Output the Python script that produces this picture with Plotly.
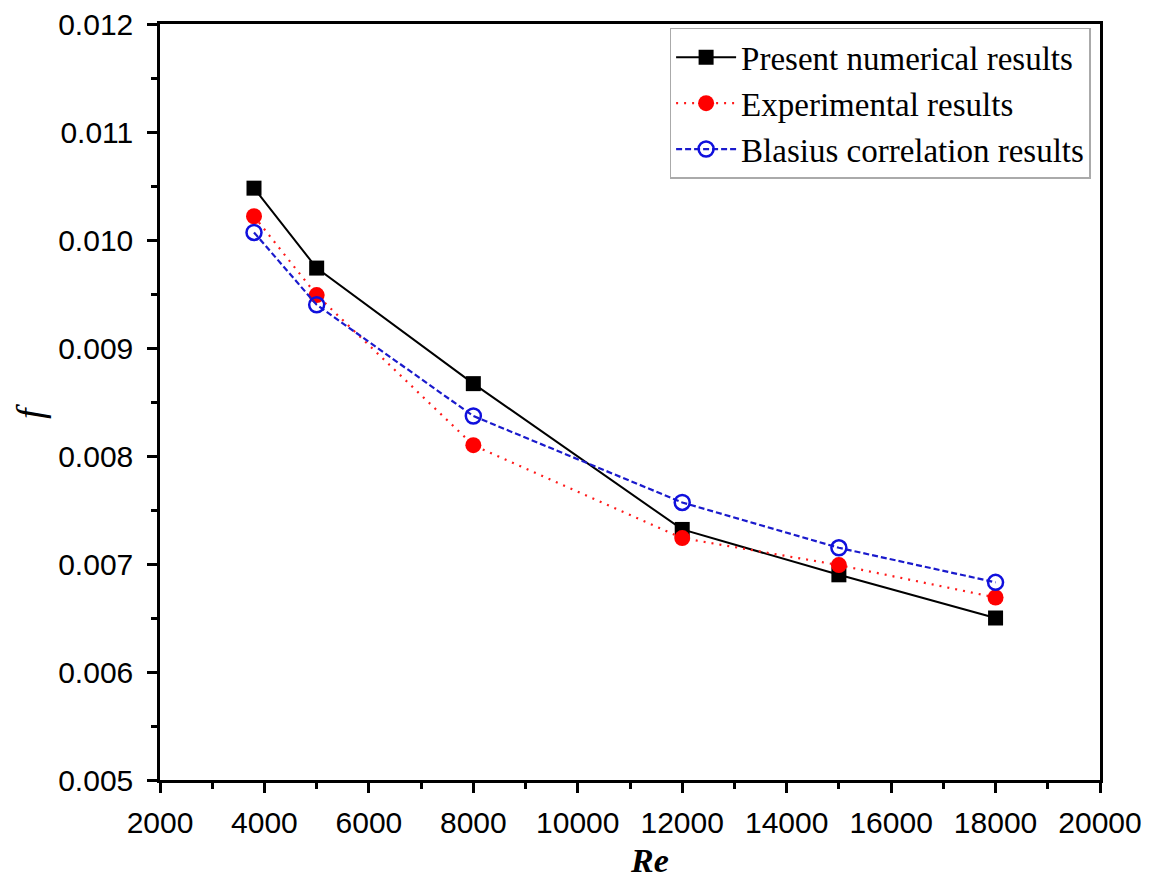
import plotly.graph_objects as go

re_vals = [3800, 5000, 8000, 12000, 15000, 18000]
f_numerical = [0.01048, 0.00974, 0.00867, 0.00732, 0.00690, 0.00650]
f_experimental = [0.01022, 0.00949, 0.00810, 0.00724, 0.00699, 0.00669]
f_blasius = [0.01007, 0.00940, 0.00837, 0.00757, 0.00715, 0.00683]

fig = go.Figure()
fig.add_trace(go.Scatter(
    x=re_vals, y=f_numerical, name="Present numerical results",
    mode="lines+markers",
    line=dict(color="black", width=2),
    marker=dict(symbol="square", size=15, color="black"),
))
fig.add_trace(go.Scatter(
    x=re_vals, y=f_experimental, name="Experimental results",
    mode="lines+markers",
    line=dict(color="#ff1a1a", width=2.2, dash="2px,6px"),
    marker=dict(symbol="circle", size=16, color="#ff0000"),
))
fig.add_trace(go.Scatter(
    x=re_vals, y=f_blasius, name="Blasius correlation results",
    mode="lines+markers",
    line=dict(color="#1a1acc", width=2.2, dash="6px,3px"),
    marker=dict(symbol="circle-open", size=15, color="#1010dd", line=dict(width=2.5, color="#1010dd")),
))

axis_common = dict(
    showline=True, linecolor="black", linewidth=2.5, mirror=True,
    ticks="outside", tickwidth=2.5, ticklen=10, tickcolor="black",
    showgrid=False, zeroline=False, automargin=False,
    tickfont=dict(family="Liberation Sans, Arial", size=30, color="black"),
)

fig.update_xaxes(
    range=[2000, 20000], dtick=2000, tick0=2000, tickformat="d",
    minor=dict(ticks="outside", ticklen=6, tickwidth=2.5, tickcolor="black", dtick=1000),
    ticklabelstandoff=4,
    **axis_common,
)
fig.update_yaxes(
    range=[0.005, 0.012], dtick=0.001, tickformat=".3f",
    minor=dict(ticks="outside", ticklen=6, tickwidth=2.5, tickcolor="black", dtick=0.0005),
    ticklabelstandoff=8,
    **axis_common,
)

fig.add_annotation(
    text="<b><i>Re</i></b>", xref="paper", yref="paper", x=0.521, y=-0.107,
    xanchor="center", yanchor="middle", showarrow=False,
    font=dict(family="Liberation Serif, Times New Roman", size=34, color="black"),
)
fig.add_annotation(
    text="<i>f</i>", xref="paper", yref="paper", x=-0.138, y=0.487,
    xanchor="center", yanchor="middle", showarrow=False, textangle=-90,
    font=dict(family="Liberation Serif, Times New Roman", size=38, color="black"),
)

fig.update_layout(
    width=1154, height=888,
    margin=dict(l=160, r=54, t=24, b=108),
    plot_bgcolor="white", paper_bgcolor="white",
    showlegend=True,
    legend=dict(
        x=0.99, y=0.995, xanchor="right", yanchor="top",
        bgcolor="white", bordercolor="#aaaaaa", borderwidth=1.5,
        font=dict(family="Liberation Serif, Times New Roman", size=33, color="black"),
        itemwidth=60, tracegroupgap=0,
    ),
)

fig.write_html("out.html")
